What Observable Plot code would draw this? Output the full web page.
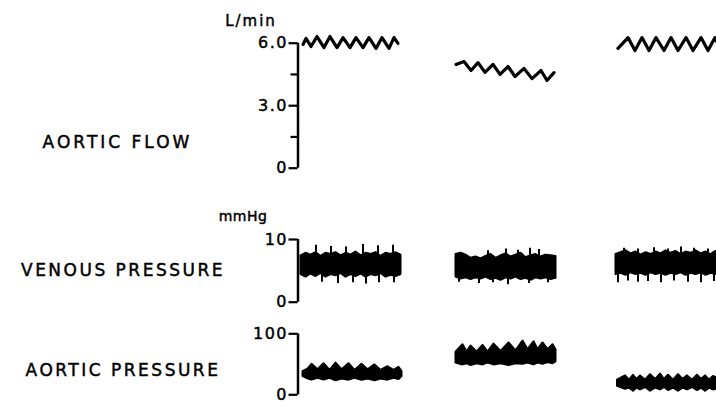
<!DOCTYPE html>
<html><head><meta charset="utf-8">
<script src="https://cdn.jsdelivr.net/npm/d3@7"></script>
<script src="https://cdn.jsdelivr.net/npm/@observablehq/plot@0.6"></script>
<style>
html,body{margin:0;padding:0;background:#fff;}
#chart{position:relative;width:716px;height:408px;overflow:hidden;background:#fff;}
#chart svg{position:absolute;left:0;top:0;}
#chart svg text{stroke:#000;stroke-width:0.45px;}
.lbl{position:absolute;font-family:"DejaVu Sans",sans-serif;color:#000;white-space:nowrap;line-height:1;transform:translate(-50%,-50%);-webkit-text-stroke:0.45px #000;}
</style></head><body><div id="chart"></div><script>
// ---- Aortic flow (L/min) ----
const flowTicks = [0, 3, 6];
const flowMinorTicks = [1.5, 4.5];
const flowT1 = [0.5, 0.8, 1.3, 1.9, 2.6, 3.2, 3.9, 4.5, 5.2, 5.8, 6.5, 7.1, 7.8, 8.4, 9.1, 9.6, 10.0];
const flowV1 = [5.94, 6.23, 5.84, 6.32, 5.79, 6.32, 5.79, 6.27, 5.79, 6.27, 5.79, 6.27, 5.75, 6.27, 5.75, 6.27, 5.99];
const flowT2 = [15.8, 16.6, 17.3, 18.0, 18.7, 19.5, 20.2, 21.0, 21.7, 22.6, 23.4, 24.3, 24.9, 25.6];
const flowV2 = [4.98, 5.12, 4.69, 5.07, 4.60, 4.98, 4.50, 4.88, 4.40, 4.79, 4.30, 4.69, 4.21, 4.59];
const flowT3 = [32.0, 33.0, 33.7, 34.4, 35.1, 35.8, 36.6, 37.3, 38.0, 38.8, 39.5, 40.3, 41.0, 41.7, 42.3];
const flowV3 = [5.75, 6.27, 5.65, 6.27, 5.65, 6.27, 5.65, 6.27, 5.65, 6.27, 5.65, 6.27, 5.65, 6.27, 5.65];

// ---- Venous pressure (mmHg): band envelopes + spikes ----
const venTicks = [0, 10];
const venT1 = [0.3,0.8,1.3,1.8,2.3,2.8,3.3,3.8,4.3,4.8,5.3,5.8,6.3,6.8,7.3,7.8,8.3,8.8,9.3,9.8,10.3];
const venHi1 = [7.4,7.8,7.5,7.9,7.3,7.8,7.6,7.9,7.4,7.8,7.5,8.0,7.4,7.8,7.6,7.9,7.3,7.8,7.6,7.9,7.5];
const venLo1 = [4.4,4.0,4.5,4.1,4.6,4.0,4.4,4.2,4.6,4.0,4.4,4.1,4.5,4.0,4.4,4.2,4.6,4.0,4.3,4.1,4.4];
const venT2 = [15.8,16.3,16.8,17.3,17.8,18.3,18.8,19.3,19.8,20.3,20.8,21.3,21.8,22.3,22.8,23.3,23.8,24.3,24.8,25.3,25.8];
const venHi2 = [7.6,7.8,7.5,7.0,7.2,6.9,7.3,7.6,7.0,7.4,7.7,7.2,7.5,7.8,7.1,7.4,7.6,7.2,7.5,7.4,7.3];
const venLo2 = [4.0,3.7,3.9,3.6,3.9,3.7,4.0,3.6,3.8,3.5,3.9,3.7,4.0,3.6,3.8,3.5,3.9,3.7,3.9,3.6,3.8];
const venT3 = [31.8,32.3,32.8,33.3,33.8,34.3,34.8,35.3,35.8,36.3,36.8,37.3,37.8,38.3,38.8,39.3,39.8,40.3,40.8,41.3,41.8,42.3];
const venHi3 = [7.6,7.9,8.2,7.7,8.0,7.5,7.9,7.6,8.0,7.7,8.2,7.8,8.1,7.6,8.0,7.8,8.2,7.7,8.0,7.6,8.1,7.9];
const venLo3 = [4.4,4.6,4.3,4.7,4.4,4.6,4.3,4.7,4.4,4.6,4.3,4.6,4.4,4.7,4.3,4.6,4.4,4.7,4.3,4.6,4.4,4.5];
const venUpT = [1.8, 3.3, 4.8, 6.5, 8.0, 9.5, 19.0, 20.8, 22.0, 23.2, 24.1, 32.6, 34.0, 35.6, 37.0, 38.3, 39.6, 41.0];
const venUpV = [9.1, 8.9, 8.8, 9.2, 9.0, 9.1, 8.2, 8.5, 8.3, 8.6, 8.4, 8.6, 8.5, 8.7, 8.5, 8.8, 8.6, 8.5];
const venDnT = [2.4, 4.0, 5.5, 6.8, 8.1, 9.6, 16.1, 18.1, 19.5, 21.0, 23.1, 25.0, 32.0, 33.0, 34.0, 35.0, 36.3, 37.6, 39.0, 40.3, 41.6];
const venDnV = [3.2, 3.0, 3.1, 2.9, 3.1, 3.1, 3.2, 3.0, 3.1, 2.8, 3.0, 3.1, 3.1, 3.4, 3.2, 3.3, 3.1, 3.4, 3.2, 3.1, 3.3];

// ---- Aortic pressure (mmHg): band envelopes ----
const presTicks = [0, 100];
const presT1 = [0.5,1.0,1.4,2.0,2.6,3.2,3.8,4.4,5.1,5.7,6.4,7.0,7.7,8.3,9.0,9.6,10.1,10.4];
const presHi1 = [38,42,50,41,51,40,52,41,51,40,50,41,49,40,46,40,45,38];
const presLo1 = [30,26,24,27,24,27,23,26,24,27,24,26,23,26,24,27,25,30];
const presT2 = [15.8,16.5,16.9,17.3,17.9,18.5,19.0,19.6,20.3,21.1,21.8,22.5,23.0,23.6,24.0,24.5,25.0,25.5,25.8];
const presHi2 = [70,82,70,80,70,81,70,83,71,85,72,88,74,87,74,85,74,82,74];
const presLo2 = [52,49,51,48,51,49,52,49,51,48,51,50,52,49,52,50,53,51,54];
const presT3 = [31.95,32.75,33.15,33.55,33.9,34.25,34.75,35.25,35.75,36.25,36.65,37.05,37.55,38.05,38.5,38.95,39.45,39.95,40.35,40.75,41.15,41.55,42.2];
const presHi3 = [24,31,24,32,25,31,24,33,25,34,25,32,24,33,25,31,24,32,25,31,24,30,25];
const presLo3 = [14,9,11,6,11,8,12,6,11,8,12,7,11,6,11,8,12,7,11,6,11,8,10];

const xDomain = [0, 41.85];

const line = (t, v, seg) => t.map((d, i) => ({t: d, v: v[i], seg}));
const band = (t, lo, hi, seg) => t.map((d, i) => ({t: d, lo: lo[i], hi: hi[i], seg}));

const flowData = [...line(flowT1, flowV1, 1), ...line(flowT2, flowV2, 2), ...line(flowT3, flowV3, 3)];
const venData = [...band(venT1, venLo1, venHi1, 1), ...band(venT2, venLo2, venHi2, 2), ...band(venT3, venLo3, venHi3, 3)];
const venUp = venUpT.map((d, i) => ({t: d, v: venUpV[i]}));
const venDn = venDnT.map((d, i) => ({t: d, v: venDnV[i]}));
const presData = [...band(presT1, presLo1, presHi1, 1), ...band(presT2, presLo2, presHi2, 2), ...band(presT3, presLo3, presHi3, 3)];

const font = "'DejaVu Sans', sans-serif";
function panel(top, bottom, ticks, fmt, marks) {
  const dom = d3.extent(ticks);
  return Plot.plot({
    width: 716, height: 408,
    marginLeft: 297.5, marginRight: 0, marginTop: top, marginBottom: bottom,
    x: {domain: xDomain, axis: null},
    y: {domain: dom, axis: null},
    style: {fontFamily: font, fontSize: "16px", background: "transparent", letterSpacing: "1.5px", overflow: "visible"},
    marks: [
      Plot.ruleX([{x: 0, a: dom[0], b: dom[1]}], {x: "x", y1: "a", y2: "b", stroke: "#000", strokeWidth: 2.5}),
      Plot.axisY({ticks, tickSize: 9, tickPadding: 1, tickFormat: fmt, label: null, fontSize: 16, stroke: "#000", strokeWidth: 2.2}),
      ...marks
    ]
  });
}

const chart = document.getElementById("chart");

chart.append(panel(42.7, 240.3, flowTicks, d => d === 0 ? "0" : d.toFixed(1), [
  Plot.axisY({ticks: flowMinorTicks, tickSize: 7, tickFormat: () => "", label: null, stroke: "#000", strokeWidth: 2.2}),
  Plot.line(flowData, {x: "t", y: "v", z: "seg", stroke: "#000", strokeWidth: 3.2, strokeLinejoin: "round", strokeLinecap: "round"})
]));

chart.append(panel(239, 106.3, venTicks, d => String(d), [
  Plot.areaY(venData, {x: "t", y1: "lo", y2: "hi", z: "seg", fill: "#000", stroke: "#000", strokeWidth: 2, strokeLinejoin: "round"}),
  Plot.ruleX(venUp, {x: "t", y1: () => 6, y2: "v", stroke: "#000", strokeWidth: 2}),
  Plot.ruleX(venDn, {x: "t", y1: () => 6, y2: "v", stroke: "#000", strokeWidth: 2})
]));

chart.append(panel(333.3, 13.7, presTicks, d => String(d), [
  Plot.areaY(presData, {x: "t", y1: "lo", y2: "hi", z: "seg", fill: "#000", stroke: "#000", strokeWidth: 2, strokeLinejoin: "round"})
]));

const labels = [
  {text: "AORTIC FLOW", x: 117.5, y: 141.5, size: 17, ls: 3},
  {text: "VENOUS PRESSURE", x: 123, y: 270, size: 17, ls: 2.5},
  {text: "AORTIC PRESSURE", x: 123, y: 370, size: 17, ls: 2.5},
  {text: "L/min", x: 251, y: 21, size: 15, ls: 2},
  {text: "mmHg", x: 243, y: 216, size: 14, ls: 0.5}
];
for (const l of labels) {
  const d = document.createElement("div");
  d.className = "lbl";
  d.textContent = l.text;
  d.style.left = l.x + "px";
  d.style.top = l.y + "px";
  d.style.fontSize = l.size + "px";
  d.style.letterSpacing = l.ls + "px";
  chart.append(d);
}
</script></body></html>
